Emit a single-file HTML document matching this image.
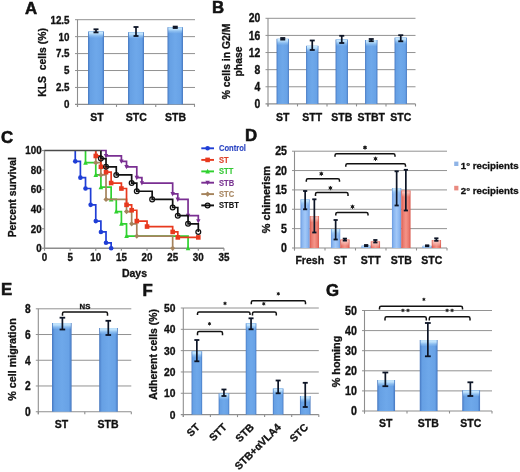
<!DOCTYPE html><html><head><meta charset="utf-8"><style>html,body{margin:0;padding:0;background:#fff;}svg{display:block;filter:blur(0.3px);}</style></head><body>
<svg width="520" height="472" viewBox="0 0 520 472" font-family='"Liberation Sans", sans-serif'>
<style>text{stroke-width:0.3px;paint-order:stroke;}</style>
<defs>
<linearGradient id="gb" x1="0" x2="1" y1="0" y2="0">
<stop offset="0" stop-color="#4676bd"/><stop offset="0.08" stop-color="#5890d8"/><stop offset="0.14" stop-color="#66a0e4"/><stop offset="0.5" stop-color="#6ea8ea"/><stop offset="0.86" stop-color="#68a2e6"/><stop offset="0.92" stop-color="#5890d8"/><stop offset="1" stop-color="#4676bd"/>
</linearGradient>
<linearGradient id="gr" x1="0" x2="1" y1="0" y2="0">
<stop offset="0" stop-color="#d9584c"/><stop offset="0.2" stop-color="#ea7a6e"/><stop offset="0.5" stop-color="#f49488"/><stop offset="0.8" stop-color="#ea7a6e"/><stop offset="1" stop-color="#d9584c"/>
</linearGradient>
<linearGradient id="gb2" x1="0" x2="1" y1="0" y2="0">
<stop offset="0" stop-color="#6a9ae0"/><stop offset="0.2" stop-color="#8ab6f0"/><stop offset="0.5" stop-color="#a2c8f8"/><stop offset="0.8" stop-color="#8ab6f0"/><stop offset="1" stop-color="#6a9ae0"/>
</linearGradient>
<linearGradient id="hb" x1="0" x2="0" y1="0" y2="1">
<stop offset="0" stop-color="#96c6f0"/><stop offset="0.1" stop-color="#c8e8fe"/><stop offset="0.35" stop-color="#b6dcfa"/><stop offset="0.7" stop-color="#9ccaf4" stop-opacity="0.5"/><stop offset="1" stop-color="#9ccaf4" stop-opacity="0"/>
</linearGradient>
<linearGradient id="hr" x1="0" x2="0" y1="0" y2="1">
<stop offset="0" stop-color="#f2a096"/><stop offset="0.3" stop-color="#f8c0b8"/><stop offset="1" stop-color="#f8c0b8" stop-opacity="0"/>
</linearGradient>
</defs>
<rect width="520" height="472" fill="#fff"/>
<text x="25.00" y="13.50" font-size="16.8" text-anchor="start" fill="#111" stroke="#111" font-weight="bold" style="stroke-width:0.55px">A</text>
<text x="212.00" y="12.50" font-size="16.8" text-anchor="start" fill="#111" stroke="#111" font-weight="bold" style="stroke-width:0.55px">B</text>
<text x="1.00" y="143.00" font-size="16.8" text-anchor="start" fill="#111" stroke="#111" font-weight="bold" style="stroke-width:0.55px">C</text>
<text x="245.00" y="141.00" font-size="16.8" text-anchor="start" fill="#111" stroke="#111" font-weight="bold" style="stroke-width:0.55px">D</text>
<text x="1.00" y="294.80" font-size="16.8" text-anchor="start" fill="#111" stroke="#111" font-weight="bold" style="stroke-width:0.55px">E</text>
<text x="142.50" y="296.00" font-size="16.8" text-anchor="start" fill="#111" stroke="#111" font-weight="bold" style="stroke-width:0.55px">F</text>
<text x="326.00" y="295.60" font-size="16.8" text-anchor="start" fill="#111" stroke="#111" font-weight="bold" style="stroke-width:0.55px">G</text>
<line x1="75.00" y1="19.70" x2="195.00" y2="19.70" stroke="#929292" stroke-width="1.0"/>
<line x1="75.00" y1="36.64" x2="195.00" y2="36.64" stroke="#929292" stroke-width="1.0"/>
<line x1="75.00" y1="53.58" x2="195.00" y2="53.58" stroke="#929292" stroke-width="1.0"/>
<line x1="75.00" y1="70.52" x2="195.00" y2="70.52" stroke="#929292" stroke-width="1.0"/>
<line x1="75.00" y1="87.46" x2="195.00" y2="87.46" stroke="#929292" stroke-width="1.0"/>
<line x1="77.50" y1="19.70" x2="77.50" y2="106.90" stroke="#8e8e8e" stroke-width="1.1"/>
<line x1="75.00" y1="104.40" x2="195.00" y2="104.40" stroke="#8e8e8e" stroke-width="1.1"/>
<line x1="77.50" y1="104.40" x2="77.50" y2="106.90" stroke="#8e8e8e" stroke-width="1.1"/>
<line x1="116.50" y1="104.40" x2="116.50" y2="106.90" stroke="#8e8e8e" stroke-width="1.1"/>
<line x1="155.75" y1="104.40" x2="155.75" y2="106.90" stroke="#8e8e8e" stroke-width="1.1"/>
<line x1="194.50" y1="104.40" x2="194.50" y2="106.90" stroke="#8e8e8e" stroke-width="1.1"/>
<text x="0" y="0" font-size="9.8" text-anchor="end" fill="#111" stroke="#111" font-weight="bold" transform="translate(69.50 23.58) scale(1 1.15)">12.5</text>
<text x="0" y="0" font-size="9.8" text-anchor="end" fill="#111" stroke="#111" font-weight="bold" transform="translate(69.50 40.52) scale(1 1.15)">10</text>
<text x="0" y="0" font-size="9.8" text-anchor="end" fill="#111" stroke="#111" font-weight="bold" transform="translate(69.50 57.46) scale(1 1.15)">7.5</text>
<text x="0" y="0" font-size="9.8" text-anchor="end" fill="#111" stroke="#111" font-weight="bold" transform="translate(69.50 74.40) scale(1 1.15)">5</text>
<text x="0" y="0" font-size="9.8" text-anchor="end" fill="#111" stroke="#111" font-weight="bold" transform="translate(69.50 91.34) scale(1 1.15)">2.5</text>
<text x="0" y="0" font-size="9.8" text-anchor="end" fill="#111" stroke="#111" font-weight="bold" transform="translate(69.50 108.28) scale(1 1.15)">0</text>
<rect x="88.00" y="31.50" width="16.00" height="72.90" fill="url(#gb)"/>
<rect x="88.80" y="31.50" width="14.40" height="6.50" fill="url(#hb)"/>
<line x1="96.00" y1="29.30" x2="96.00" y2="32.40" stroke="#0d1526" stroke-width="1.7"/>
<line x1="93.50" y1="29.30" x2="98.50" y2="29.30" stroke="#0d1526" stroke-width="1.8"/>
<line x1="93.50" y1="32.40" x2="98.50" y2="32.40" stroke="#0d1526" stroke-width="1.8"/>
<rect x="128.00" y="32.20" width="16.00" height="72.20" fill="url(#gb)"/>
<rect x="128.80" y="32.20" width="14.40" height="6.50" fill="url(#hb)"/>
<line x1="136.00" y1="27.00" x2="136.00" y2="36.00" stroke="#0d1526" stroke-width="1.7"/>
<line x1="133.50" y1="27.00" x2="138.50" y2="27.00" stroke="#0d1526" stroke-width="1.8"/>
<line x1="133.50" y1="36.00" x2="138.50" y2="36.00" stroke="#0d1526" stroke-width="1.8"/>
<rect x="167.50" y="27.20" width="15.50" height="77.20" fill="url(#gb)"/>
<rect x="168.30" y="27.20" width="13.90" height="6.50" fill="url(#hb)"/>
<line x1="175.25" y1="26.60" x2="175.25" y2="28.00" stroke="#0d1526" stroke-width="1.7"/>
<line x1="172.75" y1="26.60" x2="177.75" y2="26.60" stroke="#0d1526" stroke-width="1.8"/>
<line x1="172.75" y1="28.00" x2="177.75" y2="28.00" stroke="#0d1526" stroke-width="1.8"/>
<text x="97.00" y="121.30" font-size="10.5" text-anchor="middle" fill="#111" stroke="#111" font-weight="bold">ST</text>
<text x="136.30" y="121.30" font-size="10.5" text-anchor="middle" fill="#111" stroke="#111" font-weight="bold">STC</text>
<text x="175.50" y="121.30" font-size="10.5" text-anchor="middle" fill="#111" stroke="#111" font-weight="bold">STB</text>
<text x="0" y="0" font-size="10.4" text-anchor="middle" fill="#111" stroke="#111" font-weight="bold" transform="translate(45.90 62.50) rotate(-90)">KLS&#160; cells (%)</text>
<line x1="265.50" y1="18.30" x2="415.50" y2="18.30" stroke="#929292" stroke-width="1.0"/>
<line x1="265.50" y1="35.42" x2="415.50" y2="35.42" stroke="#929292" stroke-width="1.0"/>
<line x1="265.50" y1="52.54" x2="415.50" y2="52.54" stroke="#929292" stroke-width="1.0"/>
<line x1="265.50" y1="69.66" x2="415.50" y2="69.66" stroke="#929292" stroke-width="1.0"/>
<line x1="265.50" y1="86.78" x2="415.50" y2="86.78" stroke="#929292" stroke-width="1.0"/>
<line x1="268.00" y1="18.30" x2="268.00" y2="106.40" stroke="#8e8e8e" stroke-width="1.1"/>
<line x1="265.50" y1="103.90" x2="415.50" y2="103.90" stroke="#8e8e8e" stroke-width="1.1"/>
<line x1="268.00" y1="103.90" x2="268.00" y2="106.40" stroke="#8e8e8e" stroke-width="1.1"/>
<line x1="297.50" y1="103.90" x2="297.50" y2="106.40" stroke="#8e8e8e" stroke-width="1.1"/>
<line x1="327.00" y1="103.90" x2="327.00" y2="106.40" stroke="#8e8e8e" stroke-width="1.1"/>
<line x1="356.50" y1="103.90" x2="356.50" y2="106.40" stroke="#8e8e8e" stroke-width="1.1"/>
<line x1="386.00" y1="103.90" x2="386.00" y2="106.40" stroke="#8e8e8e" stroke-width="1.1"/>
<line x1="415.50" y1="103.90" x2="415.50" y2="106.40" stroke="#8e8e8e" stroke-width="1.1"/>
<text x="0" y="0" font-size="10.4" text-anchor="end" fill="#111" stroke="#111" font-weight="bold" transform="translate(260.20 22.41) scale(1 1.15)">20</text>
<text x="0" y="0" font-size="10.4" text-anchor="end" fill="#111" stroke="#111" font-weight="bold" transform="translate(260.20 39.53) scale(1 1.15)">16</text>
<text x="0" y="0" font-size="10.4" text-anchor="end" fill="#111" stroke="#111" font-weight="bold" transform="translate(260.20 56.65) scale(1 1.15)">12</text>
<text x="0" y="0" font-size="10.4" text-anchor="end" fill="#111" stroke="#111" font-weight="bold" transform="translate(260.20 73.77) scale(1 1.15)">8</text>
<text x="0" y="0" font-size="10.4" text-anchor="end" fill="#111" stroke="#111" font-weight="bold" transform="translate(260.20 90.89) scale(1 1.15)">4</text>
<text x="0" y="0" font-size="10.4" text-anchor="end" fill="#111" stroke="#111" font-weight="bold" transform="translate(260.20 108.01) scale(1 1.15)">0</text>
<rect x="276.55" y="38.80" width="12.40" height="65.10" fill="url(#gb)"/>
<rect x="277.35" y="38.80" width="10.80" height="6.50" fill="url(#hb)"/>
<line x1="282.75" y1="38.00" x2="282.75" y2="39.60" stroke="#0d1526" stroke-width="1.7"/>
<line x1="280.25" y1="38.00" x2="285.25" y2="38.00" stroke="#0d1526" stroke-width="1.8"/>
<line x1="280.25" y1="39.60" x2="285.25" y2="39.60" stroke="#0d1526" stroke-width="1.8"/>
<rect x="306.05" y="45.80" width="12.40" height="58.10" fill="url(#gb)"/>
<rect x="306.85" y="45.80" width="10.80" height="6.50" fill="url(#hb)"/>
<line x1="312.25" y1="40.50" x2="312.25" y2="50.00" stroke="#0d1526" stroke-width="1.7"/>
<line x1="309.75" y1="40.50" x2="314.75" y2="40.50" stroke="#0d1526" stroke-width="1.8"/>
<line x1="309.75" y1="50.00" x2="314.75" y2="50.00" stroke="#0d1526" stroke-width="1.8"/>
<rect x="335.55" y="39.50" width="12.40" height="64.40" fill="url(#gb)"/>
<rect x="336.35" y="39.50" width="10.80" height="6.50" fill="url(#hb)"/>
<line x1="341.75" y1="35.80" x2="341.75" y2="43.00" stroke="#0d1526" stroke-width="1.7"/>
<line x1="339.25" y1="35.80" x2="344.25" y2="35.80" stroke="#0d1526" stroke-width="1.8"/>
<line x1="339.25" y1="43.00" x2="344.25" y2="43.00" stroke="#0d1526" stroke-width="1.8"/>
<rect x="365.05" y="40.00" width="12.40" height="63.90" fill="url(#gb)"/>
<rect x="365.85" y="40.00" width="10.80" height="6.50" fill="url(#hb)"/>
<line x1="371.25" y1="39.00" x2="371.25" y2="41.20" stroke="#0d1526" stroke-width="1.7"/>
<line x1="368.75" y1="39.00" x2="373.75" y2="39.00" stroke="#0d1526" stroke-width="1.8"/>
<line x1="368.75" y1="41.20" x2="373.75" y2="41.20" stroke="#0d1526" stroke-width="1.8"/>
<rect x="394.55" y="37.60" width="12.40" height="66.30" fill="url(#gb)"/>
<rect x="395.35" y="37.60" width="10.80" height="6.50" fill="url(#hb)"/>
<line x1="400.75" y1="35.20" x2="400.75" y2="41.30" stroke="#0d1526" stroke-width="1.7"/>
<line x1="398.25" y1="35.20" x2="403.25" y2="35.20" stroke="#0d1526" stroke-width="1.8"/>
<line x1="398.25" y1="41.30" x2="403.25" y2="41.30" stroke="#0d1526" stroke-width="1.8"/>
<text x="282.75" y="121.30" font-size="10.5" text-anchor="middle" fill="#111" stroke="#111" font-weight="bold">ST</text>
<text x="312.25" y="121.30" font-size="10.5" text-anchor="middle" fill="#111" stroke="#111" font-weight="bold">STT</text>
<text x="341.75" y="121.30" font-size="10.5" text-anchor="middle" fill="#111" stroke="#111" font-weight="bold">STB</text>
<text x="371.25" y="121.30" font-size="10.5" text-anchor="middle" fill="#111" stroke="#111" font-weight="bold">STBT</text>
<text x="400.75" y="121.30" font-size="10.5" text-anchor="middle" fill="#111" stroke="#111" font-weight="bold">STC</text>
<text x="0" y="0" font-size="10.4" text-anchor="middle" fill="#111" stroke="#111" font-weight="bold" transform="translate(229.60 61.50) rotate(-90)">% cells in G2/M</text>
<text x="0" y="0" font-size="10.4" text-anchor="middle" fill="#111" stroke="#111" font-weight="bold" transform="translate(241.80 61.50) rotate(-90)">phase</text>
<line x1="44.50" y1="149.90" x2="44.50" y2="248.25" stroke="#8c8c8c" stroke-width="1.4"/>
<line x1="44.50" y1="248.25" x2="223.94" y2="248.25" stroke="#8c8c8c" stroke-width="1.4"/>
<line x1="42.00" y1="248.25" x2="44.50" y2="248.25" stroke="#8e8e8e" stroke-width="1.2"/>
<text x="0" y="0" font-size="9.8" text-anchor="end" fill="#111" stroke="#111" font-weight="bold" transform="translate(41.60 252.13) scale(1 1.15)">0</text>
<line x1="42.00" y1="228.70" x2="44.50" y2="228.70" stroke="#8e8e8e" stroke-width="1.2"/>
<text x="0" y="0" font-size="9.8" text-anchor="end" fill="#111" stroke="#111" font-weight="bold" transform="translate(41.60 232.58) scale(1 1.15)">20</text>
<line x1="42.00" y1="209.15" x2="44.50" y2="209.15" stroke="#8e8e8e" stroke-width="1.2"/>
<text x="0" y="0" font-size="9.8" text-anchor="end" fill="#111" stroke="#111" font-weight="bold" transform="translate(41.60 213.03) scale(1 1.15)">40</text>
<line x1="42.00" y1="189.60" x2="44.50" y2="189.60" stroke="#8e8e8e" stroke-width="1.2"/>
<text x="0" y="0" font-size="9.8" text-anchor="end" fill="#111" stroke="#111" font-weight="bold" transform="translate(41.60 193.48) scale(1 1.15)">60</text>
<line x1="42.00" y1="170.05" x2="44.50" y2="170.05" stroke="#8e8e8e" stroke-width="1.2"/>
<text x="0" y="0" font-size="9.8" text-anchor="end" fill="#111" stroke="#111" font-weight="bold" transform="translate(41.60 173.93) scale(1 1.15)">80</text>
<line x1="42.00" y1="150.50" x2="44.50" y2="150.50" stroke="#8e8e8e" stroke-width="1.2"/>
<text x="0" y="0" font-size="9.8" text-anchor="end" fill="#111" stroke="#111" font-weight="bold" transform="translate(41.60 154.38) scale(1 1.15)">100</text>
<line x1="44.50" y1="248.25" x2="44.50" y2="250.75" stroke="#8e8e8e" stroke-width="1.2"/>
<text x="0" y="0" font-size="9.8" text-anchor="middle" fill="#111" stroke="#111" font-weight="bold" transform="translate(44.50 261.00) scale(1 1.15)">0</text>
<line x1="70.13" y1="248.25" x2="70.13" y2="250.75" stroke="#8e8e8e" stroke-width="1.2"/>
<text x="0" y="0" font-size="9.8" text-anchor="middle" fill="#111" stroke="#111" font-weight="bold" transform="translate(70.13 261.00) scale(1 1.15)">5</text>
<line x1="95.77" y1="248.25" x2="95.77" y2="250.75" stroke="#8e8e8e" stroke-width="1.2"/>
<text x="0" y="0" font-size="9.8" text-anchor="middle" fill="#111" stroke="#111" font-weight="bold" transform="translate(95.77 261.00) scale(1 1.15)">10</text>
<line x1="121.41" y1="248.25" x2="121.41" y2="250.75" stroke="#8e8e8e" stroke-width="1.2"/>
<text x="0" y="0" font-size="9.8" text-anchor="middle" fill="#111" stroke="#111" font-weight="bold" transform="translate(121.41 261.00) scale(1 1.15)">15</text>
<line x1="147.04" y1="248.25" x2="147.04" y2="250.75" stroke="#8e8e8e" stroke-width="1.2"/>
<text x="0" y="0" font-size="9.8" text-anchor="middle" fill="#111" stroke="#111" font-weight="bold" transform="translate(147.04 261.00) scale(1 1.15)">20</text>
<line x1="172.67" y1="248.25" x2="172.67" y2="250.75" stroke="#8e8e8e" stroke-width="1.2"/>
<text x="0" y="0" font-size="9.8" text-anchor="middle" fill="#111" stroke="#111" font-weight="bold" transform="translate(172.67 261.00) scale(1 1.15)">25</text>
<line x1="198.31" y1="248.25" x2="198.31" y2="250.75" stroke="#8e8e8e" stroke-width="1.2"/>
<text x="0" y="0" font-size="9.8" text-anchor="middle" fill="#111" stroke="#111" font-weight="bold" transform="translate(198.31 261.00) scale(1 1.15)">30</text>
<line x1="223.94" y1="248.25" x2="223.94" y2="250.75" stroke="#8e8e8e" stroke-width="1.2"/>
<text x="0" y="0" font-size="9.8" text-anchor="middle" fill="#111" stroke="#111" font-weight="bold" transform="translate(223.94 261.00) scale(1 1.15)">35</text>
<text x="134.50" y="276.60" font-size="10.5" text-anchor="middle" fill="#111" stroke="#111" font-weight="bold">Days</text>
<text x="0" y="0" font-size="10.4" text-anchor="middle" fill="#111" stroke="#111" font-weight="bold" transform="translate(15.80 197.20) rotate(-90)">Percent survival</text>
<path d="M75.26 150.50 H75.26 V161.35 H80.39 V177.67 H85.52 V188.52 H90.64 V204.85 H95.77 V221.08 H100.90 V231.93 H106.02 V242.78 H111.15 V248.25" stroke="#1f3ed6" stroke-width="1.7" fill="none" stroke-linejoin="miter"/>
<circle cx="75.26" cy="161.35" r="2.3" fill="#1f3ed6"/>
<circle cx="80.39" cy="177.67" r="2.3" fill="#1f3ed6"/>
<circle cx="85.52" cy="188.52" r="2.3" fill="#1f3ed6"/>
<circle cx="90.64" cy="204.85" r="2.3" fill="#1f3ed6"/>
<circle cx="95.77" cy="221.08" r="2.3" fill="#1f3ed6"/>
<circle cx="100.90" cy="231.93" r="2.3" fill="#1f3ed6"/>
<circle cx="106.02" cy="242.78" r="2.3" fill="#1f3ed6"/>
<circle cx="111.15" cy="248.25" r="2.3" fill="#1f3ed6"/>
<path d="M85.52 150.50 H85.52 V162.72 H95.77 V174.94 H100.90 V187.16 H111.15 V199.38 H116.28 V211.59 H121.41 V223.81 H126.53 V236.03 H188.06 V248.25" stroke="#2fd12f" stroke-width="1.7" fill="none" stroke-linejoin="miter"/>
<path d="M85.52 160.12 L87.82 164.72 L83.22 164.72Z" fill="#2fd12f"/>
<path d="M95.77 172.34 L98.07 176.94 L93.47 176.94Z" fill="#2fd12f"/>
<path d="M100.90 184.56 L103.20 189.16 L98.60 189.16Z" fill="#2fd12f"/>
<path d="M111.15 196.77 L113.45 201.38 L108.85 201.38Z" fill="#2fd12f"/>
<path d="M116.28 208.99 L118.58 213.59 L113.98 213.59Z" fill="#2fd12f"/>
<path d="M121.41 221.21 L123.70 225.81 L119.11 225.81Z" fill="#2fd12f"/>
<path d="M126.53 233.43 L128.83 238.03 L124.23 238.03Z" fill="#2fd12f"/>
<path d="M188.06 245.65 L190.36 250.25 L185.76 250.25Z" fill="#2fd12f"/>
<path d="M95.77 150.50 H95.77 V162.72 H100.90 V174.94 H106.02 V199.38 H126.53 V211.59 H131.66 V223.81 H136.79 V236.03 H172.67 V248.25" stroke="#a5835c" stroke-width="1.7" fill="none" stroke-linejoin="miter"/>
<path d="M95.77 160.12 L98.37 162.72 L95.77 165.32 L93.17 162.72Z" fill="#a5835c"/>
<path d="M100.90 172.34 L103.50 174.94 L100.90 177.54 L98.30 174.94Z" fill="#a5835c"/>
<path d="M106.02 196.78 L108.62 199.38 L106.02 201.97 L103.42 199.38Z" fill="#a5835c"/>
<path d="M126.53 208.99 L129.13 211.59 L126.53 214.19 L123.93 211.59Z" fill="#a5835c"/>
<path d="M131.66 221.21 L134.26 223.81 L131.66 226.41 L129.06 223.81Z" fill="#a5835c"/>
<path d="M136.79 233.43 L139.39 236.03 L136.79 238.63 L134.19 236.03Z" fill="#a5835c"/>
<path d="M172.67 245.65 L175.27 248.25 L172.67 250.85 L170.07 248.25Z" fill="#a5835c"/>
<path d="M95.77 150.50 H95.77 V155.97 H100.90 V166.82 H106.02 V172.20 H111.15 V183.05 H121.41 V188.52 H126.53 V204.85 H131.66 V210.23 H136.79 V221.08 H147.04 V226.55 H172.67 V231.93 H177.80 V237.40 H198.31" stroke="#e8391e" stroke-width="1.7" fill="none" stroke-linejoin="miter"/>
<rect x="93.47" y="153.67" width="4.6" height="4.6" fill="#e8391e"/>
<rect x="98.60" y="164.52" width="4.6" height="4.6" fill="#e8391e"/>
<rect x="103.72" y="169.90" width="4.6" height="4.6" fill="#e8391e"/>
<rect x="108.85" y="180.75" width="4.6" height="4.6" fill="#e8391e"/>
<rect x="119.11" y="186.22" width="4.6" height="4.6" fill="#e8391e"/>
<rect x="124.23" y="202.55" width="4.6" height="4.6" fill="#e8391e"/>
<rect x="129.36" y="207.93" width="4.6" height="4.6" fill="#e8391e"/>
<rect x="134.49" y="218.78" width="4.6" height="4.6" fill="#e8391e"/>
<rect x="144.74" y="224.25" width="4.6" height="4.6" fill="#e8391e"/>
<rect x="170.37" y="229.63" width="4.6" height="4.6" fill="#e8391e"/>
<rect x="175.50" y="235.10" width="4.6" height="4.6" fill="#e8391e"/>
<rect x="196.01" y="235.10" width="4.6" height="4.6" fill="#e8391e"/>
<path d="M100.90 150.50 H106.02 V155.97 H121.41 V161.35 H126.53 V166.82 H136.79 V177.67 H141.91 V183.05 H172.67 V193.90 H177.80 V199.38 H188.06 V215.70 H198.31 V221.08" stroke="#7a2f92" stroke-width="1.7" fill="none" stroke-linejoin="miter"/>
<path d="M103.82 154.07 L108.22 154.07 L106.02 158.47Z" fill="#7a2f92"/>
<path d="M119.20 159.45 L123.61 159.45 L121.41 163.85Z" fill="#7a2f92"/>
<path d="M124.33 164.92 L128.73 164.92 L126.53 169.32Z" fill="#7a2f92"/>
<path d="M134.59 175.77 L138.99 175.77 L136.79 180.17Z" fill="#7a2f92"/>
<path d="M139.71 181.15 L144.11 181.15 L141.91 185.55Z" fill="#7a2f92"/>
<path d="M170.47 192.00 L174.87 192.00 L172.67 196.40Z" fill="#7a2f92"/>
<path d="M175.60 197.48 L180.00 197.48 L177.80 201.88Z" fill="#7a2f92"/>
<path d="M185.86 213.80 L190.26 213.80 L188.06 218.20Z" fill="#7a2f92"/>
<path d="M196.11 219.18 L200.51 219.18 L198.31 223.58Z" fill="#7a2f92"/>
<path d="M100.90 150.50 H100.90 V158.61 H106.02 V166.82 H116.28 V174.94 H131.66 V183.05 H136.79 V191.26 H152.17 V199.38 H172.67 V207.49 H177.80 V215.70 H188.06 V223.81 H198.31 V231.93" stroke="#111111" stroke-width="1.7" fill="none" stroke-linejoin="miter"/>
<circle cx="100.90" cy="158.61" r="2.4" fill="none" stroke="#111111" stroke-width="1.25"/>
<circle cx="106.02" cy="166.82" r="2.4" fill="none" stroke="#111111" stroke-width="1.25"/>
<circle cx="116.28" cy="174.94" r="2.4" fill="none" stroke="#111111" stroke-width="1.25"/>
<circle cx="131.66" cy="183.05" r="2.4" fill="none" stroke="#111111" stroke-width="1.25"/>
<circle cx="136.79" cy="191.26" r="2.4" fill="none" stroke="#111111" stroke-width="1.25"/>
<circle cx="152.17" cy="199.38" r="2.4" fill="none" stroke="#111111" stroke-width="1.25"/>
<circle cx="172.67" cy="207.49" r="2.4" fill="none" stroke="#111111" stroke-width="1.25"/>
<circle cx="177.80" cy="215.70" r="2.4" fill="none" stroke="#111111" stroke-width="1.25"/>
<circle cx="188.06" cy="223.81" r="2.4" fill="none" stroke="#111111" stroke-width="1.25"/>
<circle cx="198.31" cy="231.93" r="2.4" fill="none" stroke="#111111" stroke-width="1.25"/>
<line x1="44.50" y1="150.50" x2="100.90" y2="150.50" stroke="#4a4a4a" stroke-width="1.5"/>
<line x1="201.30" y1="148.30" x2="214.00" y2="148.30" stroke="#1f3ed6" stroke-width="1.9"/>
<circle cx="207.60" cy="148.30" r="2.3" fill="#1f3ed6"/>
<text x="0" y="0" font-size="7.6" text-anchor="start" fill="#2a44c2" stroke="#2a44c2" font-weight="bold" transform="translate(219.00 151.38) scale(1 1.1)" style="stroke-width:0.12px">Control</text>
<line x1="201.30" y1="159.90" x2="214.00" y2="159.90" stroke="#e8391e" stroke-width="1.9"/>
<rect x="205.30" y="157.60" width="4.6" height="4.6" fill="#e8391e"/>
<text x="0" y="0" font-size="7.6" text-anchor="start" fill="#dc4028" stroke="#dc4028" font-weight="bold" transform="translate(219.00 162.98) scale(1 1.1)" style="stroke-width:0.12px">ST</text>
<line x1="201.30" y1="171.40" x2="214.00" y2="171.40" stroke="#2fd12f" stroke-width="1.9"/>
<path d="M207.60 168.80 L209.90 173.40 L205.30 173.40Z" fill="#2fd12f"/>
<text x="0" y="0" font-size="7.6" text-anchor="start" fill="#36c836" stroke="#36c836" font-weight="bold" transform="translate(219.00 174.48) scale(1 1.1)" style="stroke-width:0.12px">STT</text>
<line x1="201.30" y1="182.70" x2="214.00" y2="182.70" stroke="#7a2f92" stroke-width="1.9"/>
<path d="M205.40 180.80 L209.80 180.80 L207.60 185.20Z" fill="#7a2f92"/>
<text x="0" y="0" font-size="7.6" text-anchor="start" fill="#7a3592" stroke="#7a3592" font-weight="bold" transform="translate(219.00 185.78) scale(1 1.1)" style="stroke-width:0.12px">STB</text>
<line x1="201.30" y1="194.10" x2="214.00" y2="194.10" stroke="#a5835c" stroke-width="1.9"/>
<path d="M207.60 191.50 L210.20 194.10 L207.60 196.70 L205.00 194.10Z" fill="#a5835c"/>
<text x="0" y="0" font-size="7.6" text-anchor="start" fill="#a88762" stroke="#a88762" font-weight="bold" transform="translate(219.00 197.18) scale(1 1.1)" style="stroke-width:0.12px">STC</text>
<line x1="201.30" y1="205.40" x2="214.00" y2="205.40" stroke="#111111" stroke-width="1.9"/>
<circle cx="207.60" cy="205.40" r="2.4" fill="none" stroke="#111111" stroke-width="1.25"/>
<text x="0" y="0" font-size="7.6" text-anchor="start" fill="#161616" stroke="#161616" font-weight="bold" transform="translate(219.00 208.48) scale(1 1.1)" style="stroke-width:0.12px">STBT</text>
<line x1="292.00" y1="151.20" x2="447.00" y2="151.20" stroke="#929292" stroke-width="1.0"/>
<line x1="292.00" y1="170.56" x2="447.00" y2="170.56" stroke="#929292" stroke-width="1.0"/>
<line x1="292.00" y1="189.92" x2="447.00" y2="189.92" stroke="#929292" stroke-width="1.0"/>
<line x1="292.00" y1="209.28" x2="447.00" y2="209.28" stroke="#929292" stroke-width="1.0"/>
<line x1="292.00" y1="228.64" x2="447.00" y2="228.64" stroke="#929292" stroke-width="1.0"/>
<line x1="294.50" y1="151.20" x2="294.50" y2="250.50" stroke="#8e8e8e" stroke-width="1.1"/>
<line x1="292.00" y1="248.00" x2="447.00" y2="248.00" stroke="#8e8e8e" stroke-width="1.1"/>
<line x1="294.50" y1="248.00" x2="294.50" y2="250.50" stroke="#8e8e8e" stroke-width="1.1"/>
<line x1="325.00" y1="248.00" x2="325.00" y2="250.50" stroke="#8e8e8e" stroke-width="1.1"/>
<line x1="355.50" y1="248.00" x2="355.50" y2="250.50" stroke="#8e8e8e" stroke-width="1.1"/>
<line x1="386.00" y1="248.00" x2="386.00" y2="250.50" stroke="#8e8e8e" stroke-width="1.1"/>
<line x1="416.50" y1="248.00" x2="416.50" y2="250.50" stroke="#8e8e8e" stroke-width="1.1"/>
<line x1="447.00" y1="248.00" x2="447.00" y2="250.50" stroke="#8e8e8e" stroke-width="1.1"/>
<text x="0" y="0" font-size="10.6" text-anchor="end" fill="#111" stroke="#111" font-weight="bold" transform="translate(286.90 155.39) scale(1 1.15)">25</text>
<text x="0" y="0" font-size="10.6" text-anchor="end" fill="#111" stroke="#111" font-weight="bold" transform="translate(286.90 174.75) scale(1 1.15)">20</text>
<text x="0" y="0" font-size="10.6" text-anchor="end" fill="#111" stroke="#111" font-weight="bold" transform="translate(286.90 194.11) scale(1 1.15)">15</text>
<text x="0" y="0" font-size="10.6" text-anchor="end" fill="#111" stroke="#111" font-weight="bold" transform="translate(286.90 213.47) scale(1 1.15)">10</text>
<text x="0" y="0" font-size="10.6" text-anchor="end" fill="#111" stroke="#111" font-weight="bold" transform="translate(286.90 232.83) scale(1 1.15)">5</text>
<text x="0" y="0" font-size="10.6" text-anchor="end" fill="#111" stroke="#111" font-weight="bold" transform="translate(286.90 252.19) scale(1 1.15)">0</text>
<rect x="300.45" y="199.30" width="9.30" height="48.70" fill="url(#gb2)"/>
<rect x="301.25" y="199.30" width="7.70" height="6.50" fill="url(#hb)"/>
<rect x="309.75" y="216.00" width="9.30" height="32.00" fill="url(#gr)"/>
<rect x="310.55" y="216.00" width="7.70" height="6.50" fill="url(#hr)"/>
<line x1="305.15" y1="191.00" x2="305.15" y2="209.30" stroke="#0d1526" stroke-width="1.7"/>
<line x1="303.05" y1="191.00" x2="307.25" y2="191.00" stroke="#0d1526" stroke-width="1.8"/>
<line x1="303.05" y1="209.30" x2="307.25" y2="209.30" stroke="#0d1526" stroke-width="1.8"/>
<line x1="314.35" y1="199.30" x2="314.35" y2="232.50" stroke="#0d1526" stroke-width="1.7"/>
<line x1="312.25" y1="199.30" x2="316.45" y2="199.30" stroke="#0d1526" stroke-width="1.8"/>
<line x1="312.25" y1="232.50" x2="316.45" y2="232.50" stroke="#0d1526" stroke-width="1.8"/>
<rect x="330.95" y="229.00" width="9.30" height="19.00" fill="url(#gb2)"/>
<rect x="331.75" y="229.00" width="7.70" height="6.50" fill="url(#hb)"/>
<rect x="340.25" y="239.50" width="9.30" height="8.50" fill="url(#gr)"/>
<rect x="341.05" y="239.50" width="7.70" height="6.50" fill="url(#hr)"/>
<line x1="335.65" y1="220.00" x2="335.65" y2="239.50" stroke="#0d1526" stroke-width="1.7"/>
<line x1="333.55" y1="220.00" x2="337.75" y2="220.00" stroke="#0d1526" stroke-width="1.8"/>
<line x1="333.55" y1="239.50" x2="337.75" y2="239.50" stroke="#0d1526" stroke-width="1.8"/>
<line x1="344.85" y1="238.60" x2="344.85" y2="240.60" stroke="#0d1526" stroke-width="1.7"/>
<line x1="342.75" y1="238.60" x2="346.95" y2="238.60" stroke="#0d1526" stroke-width="1.8"/>
<line x1="342.75" y1="240.60" x2="346.95" y2="240.60" stroke="#0d1526" stroke-width="1.8"/>
<rect x="361.45" y="245.60" width="9.30" height="2.40" fill="url(#gb2)"/>
<rect x="362.25" y="245.60" width="7.70" height="2.40" fill="url(#hb)"/>
<rect x="370.75" y="241.30" width="9.30" height="6.70" fill="url(#gr)"/>
<rect x="371.55" y="241.30" width="7.70" height="6.50" fill="url(#hr)"/>
<line x1="366.15" y1="245.00" x2="366.15" y2="246.20" stroke="#0d1526" stroke-width="1.7"/>
<line x1="364.05" y1="245.00" x2="368.25" y2="245.00" stroke="#0d1526" stroke-width="1.8"/>
<line x1="364.05" y1="246.20" x2="368.25" y2="246.20" stroke="#0d1526" stroke-width="1.8"/>
<line x1="375.35" y1="240.00" x2="375.35" y2="242.50" stroke="#0d1526" stroke-width="1.7"/>
<line x1="373.25" y1="240.00" x2="377.45" y2="240.00" stroke="#0d1526" stroke-width="1.8"/>
<line x1="373.25" y1="242.50" x2="377.45" y2="242.50" stroke="#0d1526" stroke-width="1.8"/>
<rect x="391.95" y="188.00" width="9.30" height="60.00" fill="url(#gb2)"/>
<rect x="392.75" y="188.00" width="7.70" height="6.50" fill="url(#hb)"/>
<rect x="401.25" y="190.50" width="9.30" height="57.50" fill="url(#gr)"/>
<rect x="402.05" y="190.50" width="7.70" height="6.50" fill="url(#hr)"/>
<line x1="396.65" y1="171.30" x2="396.65" y2="205.50" stroke="#0d1526" stroke-width="1.7"/>
<line x1="394.55" y1="171.30" x2="398.75" y2="171.30" stroke="#0d1526" stroke-width="1.8"/>
<line x1="394.55" y1="205.50" x2="398.75" y2="205.50" stroke="#0d1526" stroke-width="1.8"/>
<line x1="405.85" y1="169.80" x2="405.85" y2="210.50" stroke="#0d1526" stroke-width="1.7"/>
<line x1="403.75" y1="169.80" x2="407.95" y2="169.80" stroke="#0d1526" stroke-width="1.8"/>
<line x1="403.75" y1="210.50" x2="407.95" y2="210.50" stroke="#0d1526" stroke-width="1.8"/>
<rect x="422.45" y="245.80" width="9.30" height="2.20" fill="url(#gb2)"/>
<rect x="423.25" y="245.80" width="7.70" height="2.20" fill="url(#hb)"/>
<rect x="431.75" y="240.00" width="9.30" height="8.00" fill="url(#gr)"/>
<rect x="432.55" y="240.00" width="7.70" height="6.50" fill="url(#hr)"/>
<line x1="427.15" y1="245.30" x2="427.15" y2="246.30" stroke="#0d1526" stroke-width="1.7"/>
<line x1="425.05" y1="245.30" x2="429.25" y2="245.30" stroke="#0d1526" stroke-width="1.8"/>
<line x1="425.05" y1="246.30" x2="429.25" y2="246.30" stroke="#0d1526" stroke-width="1.8"/>
<line x1="436.35" y1="238.30" x2="436.35" y2="240.80" stroke="#0d1526" stroke-width="1.7"/>
<line x1="434.25" y1="238.30" x2="438.45" y2="238.30" stroke="#0d1526" stroke-width="1.8"/>
<line x1="434.25" y1="240.80" x2="438.45" y2="240.80" stroke="#0d1526" stroke-width="1.8"/>
<text x="309.75" y="263.60" font-size="10.5" text-anchor="middle" fill="#111" stroke="#111" font-weight="bold">Fresh</text>
<text x="340.25" y="263.60" font-size="10.5" text-anchor="middle" fill="#111" stroke="#111" font-weight="bold">ST</text>
<text x="370.75" y="263.60" font-size="10.5" text-anchor="middle" fill="#111" stroke="#111" font-weight="bold">STT</text>
<text x="401.25" y="263.60" font-size="10.5" text-anchor="middle" fill="#111" stroke="#111" font-weight="bold">STB</text>
<text x="431.75" y="263.60" font-size="10.5" text-anchor="middle" fill="#111" stroke="#111" font-weight="bold">STC</text>
<text x="0" y="0" font-size="10.9" text-anchor="middle" fill="#111" stroke="#111" font-weight="bold" transform="translate(269.90 199.60) rotate(-90)">% chimerism</text>
<path d="M306.30 181.80 V180.40 Q306.30 178.80 307.90 178.80 H337.90 Q339.50 178.80 339.50 180.40 V181.80" stroke="#111" stroke-width="1.5" fill="none"/>
<circle cx="321.30" cy="173.80" r="1.48" fill="#1a1a1a"/>
<path d="M321.30 172.05L321.30 175.55M319.79 172.93L322.81 174.67M322.81 172.93L319.79 174.67" stroke="#1a1a1a" stroke-width="0.95" stroke-linecap="round"/>
<path d="M315.50 196.00 V194.10 Q315.50 192.50 317.10 192.50 H346.40 Q348.00 192.50 348.00 194.10 V196.00" stroke="#111" stroke-width="1.5" fill="none"/>
<circle cx="330.40" cy="188.10" r="1.48" fill="#1a1a1a"/>
<path d="M330.40 186.35L330.40 189.85M328.89 187.23L331.91 188.97M331.91 187.23L328.89 188.97" stroke="#1a1a1a" stroke-width="0.95" stroke-linecap="round"/>
<path d="M335.80 215.50 V214.10 Q335.80 212.50 337.40 212.50 H366.40 Q368.00 212.50 368.00 214.10 V215.50" stroke="#111" stroke-width="1.5" fill="none"/>
<circle cx="352.50" cy="206.80" r="1.48" fill="#1a1a1a"/>
<path d="M352.50 205.05L352.50 208.55M350.99 205.93L354.01 207.67M354.01 205.93L350.99 207.67" stroke="#1a1a1a" stroke-width="0.95" stroke-linecap="round"/>
<path d="M335.00 156.80 V155.40 Q335.00 153.80 336.60 153.80 H393.40 Q395.00 153.80 395.00 155.40 V156.80" stroke="#111" stroke-width="1.5" fill="none"/>
<circle cx="365.00" cy="147.60" r="1.48" fill="#1a1a1a"/>
<path d="M365.00 145.85L365.00 149.35M363.49 146.73L366.51 148.47M366.51 146.73L363.49 148.47" stroke="#1a1a1a" stroke-width="0.95" stroke-linecap="round"/>
<path d="M345.80 166.80 V165.40 Q345.80 163.80 347.40 163.80 H403.90 Q405.50 163.80 405.50 165.40 V166.80" stroke="#111" stroke-width="1.5" fill="none"/>
<circle cx="375.50" cy="158.80" r="1.48" fill="#1a1a1a"/>
<path d="M375.50 157.05L375.50 160.55M373.99 157.93L377.01 159.67M377.01 157.93L373.99 159.67" stroke="#1a1a1a" stroke-width="0.95" stroke-linecap="round"/>
<rect x="454.2" y="161.6" width="4.2" height="4.4" fill="#8fb4e6"/>
<rect x="454.2" y="185.8" width="4.2" height="4.6" fill="#e98a80"/>
<text x="460.80" y="169.30" font-size="9.7" text-anchor="start" fill="#111" stroke="#111" font-weight="bold">1&#176; recipients</text>
<text x="460.80" y="193.90" font-size="9.7" text-anchor="start" fill="#111" stroke="#111" font-weight="bold">2&#176; recipients</text>
<line x1="35.80" y1="308.80" x2="131.30" y2="308.80" stroke="#929292" stroke-width="1.0"/>
<line x1="35.80" y1="334.52" x2="131.30" y2="334.52" stroke="#929292" stroke-width="1.0"/>
<line x1="35.80" y1="360.25" x2="131.30" y2="360.25" stroke="#929292" stroke-width="1.0"/>
<line x1="35.80" y1="385.98" x2="131.30" y2="385.98" stroke="#929292" stroke-width="1.0"/>
<line x1="38.30" y1="308.80" x2="38.30" y2="414.20" stroke="#8e8e8e" stroke-width="1.1"/>
<line x1="35.80" y1="411.70" x2="131.30" y2="411.70" stroke="#8e8e8e" stroke-width="1.1"/>
<line x1="38.30" y1="411.70" x2="38.30" y2="414.20" stroke="#8e8e8e" stroke-width="1.1"/>
<line x1="84.80" y1="411.70" x2="84.80" y2="414.20" stroke="#8e8e8e" stroke-width="1.1"/>
<line x1="131.30" y1="411.70" x2="131.30" y2="414.20" stroke="#8e8e8e" stroke-width="1.1"/>
<text x="0" y="0" font-size="10.2" text-anchor="end" fill="#111" stroke="#111" font-weight="bold" transform="translate(30.60 313.19) scale(1 1.25)">8</text>
<text x="0" y="0" font-size="10.2" text-anchor="end" fill="#111" stroke="#111" font-weight="bold" transform="translate(30.60 338.91) scale(1 1.25)">6</text>
<text x="0" y="0" font-size="10.2" text-anchor="end" fill="#111" stroke="#111" font-weight="bold" transform="translate(30.60 364.64) scale(1 1.25)">4</text>
<text x="0" y="0" font-size="10.2" text-anchor="end" fill="#111" stroke="#111" font-weight="bold" transform="translate(30.60 390.36) scale(1 1.25)">2</text>
<text x="0" y="0" font-size="10.2" text-anchor="end" fill="#111" stroke="#111" font-weight="bold" transform="translate(30.60 416.09) scale(1 1.25)">0</text>
<rect x="52.00" y="323.00" width="19.60" height="88.70" fill="url(#gb)"/>
<rect x="52.80" y="323.00" width="18.00" height="6.50" fill="url(#hb)"/>
<line x1="62.40" y1="317.70" x2="62.40" y2="329.50" stroke="#0d1526" stroke-width="1.7"/>
<line x1="59.60" y1="317.70" x2="65.20" y2="317.70" stroke="#0d1526" stroke-width="1.8"/>
<line x1="59.60" y1="329.50" x2="65.20" y2="329.50" stroke="#0d1526" stroke-width="1.8"/>
<rect x="99.20" y="328.00" width="18.60" height="83.70" fill="url(#gb)"/>
<rect x="100.00" y="328.00" width="17.00" height="6.50" fill="url(#hb)"/>
<line x1="108.30" y1="320.80" x2="108.30" y2="335.00" stroke="#0d1526" stroke-width="1.7"/>
<line x1="105.50" y1="320.80" x2="111.10" y2="320.80" stroke="#0d1526" stroke-width="1.8"/>
<line x1="105.50" y1="335.00" x2="111.10" y2="335.00" stroke="#0d1526" stroke-width="1.8"/>
<text x="61.55" y="427.80" font-size="10.5" text-anchor="middle" fill="#111" stroke="#111" font-weight="bold">ST</text>
<text x="108.05" y="427.80" font-size="10.5" text-anchor="middle" fill="#111" stroke="#111" font-weight="bold">STB</text>
<path d="M62.50 315.80 V313.60 Q62.50 312.00 64.10 312.00 H105.90 Q107.50 312.00 107.50 313.60 V315.80" stroke="#111" stroke-width="1.5" fill="none"/>
<text x="85.00" y="309.00" font-size="7.8" text-anchor="middle" fill="#111" stroke="#111" font-weight="bold">NS</text>
<text x="0" y="0" font-size="10.75" text-anchor="middle" fill="#111" stroke="#111" font-weight="bold" transform="translate(15.60 359.50) rotate(-90)">% cell migration</text>
<line x1="180.80" y1="308.00" x2="318.80" y2="308.00" stroke="#929292" stroke-width="1.0"/>
<line x1="180.80" y1="329.32" x2="318.80" y2="329.32" stroke="#929292" stroke-width="1.0"/>
<line x1="180.80" y1="350.64" x2="318.80" y2="350.64" stroke="#929292" stroke-width="1.0"/>
<line x1="180.80" y1="371.96" x2="318.80" y2="371.96" stroke="#929292" stroke-width="1.0"/>
<line x1="180.80" y1="393.28" x2="318.80" y2="393.28" stroke="#929292" stroke-width="1.0"/>
<line x1="183.30" y1="308.00" x2="183.30" y2="417.10" stroke="#8e8e8e" stroke-width="1.1"/>
<line x1="180.80" y1="414.60" x2="318.80" y2="414.60" stroke="#8e8e8e" stroke-width="1.1"/>
<line x1="183.30" y1="414.60" x2="183.30" y2="417.10" stroke="#8e8e8e" stroke-width="1.1"/>
<line x1="210.40" y1="414.60" x2="210.40" y2="417.10" stroke="#8e8e8e" stroke-width="1.1"/>
<line x1="237.50" y1="414.60" x2="237.50" y2="417.10" stroke="#8e8e8e" stroke-width="1.1"/>
<line x1="264.60" y1="414.60" x2="264.60" y2="417.10" stroke="#8e8e8e" stroke-width="1.1"/>
<line x1="291.70" y1="414.60" x2="291.70" y2="417.10" stroke="#8e8e8e" stroke-width="1.1"/>
<line x1="318.80" y1="414.60" x2="318.80" y2="417.10" stroke="#8e8e8e" stroke-width="1.1"/>
<text x="0" y="0" font-size="10.3" text-anchor="end" fill="#111" stroke="#111" font-weight="bold" transform="translate(175.50 312.07) scale(1 1.15)">50</text>
<text x="0" y="0" font-size="10.3" text-anchor="end" fill="#111" stroke="#111" font-weight="bold" transform="translate(175.50 333.39) scale(1 1.15)">40</text>
<text x="0" y="0" font-size="10.3" text-anchor="end" fill="#111" stroke="#111" font-weight="bold" transform="translate(175.50 354.71) scale(1 1.15)">30</text>
<text x="0" y="0" font-size="10.3" text-anchor="end" fill="#111" stroke="#111" font-weight="bold" transform="translate(175.50 376.03) scale(1 1.15)">20</text>
<text x="0" y="0" font-size="10.3" text-anchor="end" fill="#111" stroke="#111" font-weight="bold" transform="translate(175.50 397.35) scale(1 1.15)">10</text>
<text x="0" y="0" font-size="10.3" text-anchor="end" fill="#111" stroke="#111" font-weight="bold" transform="translate(175.50 418.67) scale(1 1.15)">0</text>
<rect x="191.55" y="351.30" width="10.60" height="63.30" fill="url(#gb)"/>
<rect x="192.35" y="351.30" width="9.00" height="6.50" fill="url(#hb)"/>
<line x1="196.85" y1="340.00" x2="196.85" y2="361.30" stroke="#0d1526" stroke-width="1.7"/>
<line x1="194.35" y1="340.00" x2="199.35" y2="340.00" stroke="#0d1526" stroke-width="1.8"/>
<line x1="194.35" y1="361.30" x2="199.35" y2="361.30" stroke="#0d1526" stroke-width="1.8"/>
<rect x="218.65" y="393.50" width="10.60" height="21.10" fill="url(#gb)"/>
<rect x="219.45" y="393.50" width="9.00" height="6.50" fill="url(#hb)"/>
<line x1="223.95" y1="389.50" x2="223.95" y2="396.00" stroke="#0d1526" stroke-width="1.7"/>
<line x1="221.45" y1="389.50" x2="226.45" y2="389.50" stroke="#0d1526" stroke-width="1.8"/>
<line x1="221.45" y1="396.00" x2="226.45" y2="396.00" stroke="#0d1526" stroke-width="1.8"/>
<rect x="245.75" y="323.30" width="10.60" height="91.30" fill="url(#gb)"/>
<rect x="246.55" y="323.30" width="9.00" height="6.50" fill="url(#hb)"/>
<line x1="251.05" y1="318.30" x2="251.05" y2="329.30" stroke="#0d1526" stroke-width="1.7"/>
<line x1="248.55" y1="318.30" x2="253.55" y2="318.30" stroke="#0d1526" stroke-width="1.8"/>
<line x1="248.55" y1="329.30" x2="253.55" y2="329.30" stroke="#0d1526" stroke-width="1.8"/>
<rect x="272.85" y="388.50" width="10.60" height="26.10" fill="url(#gb)"/>
<rect x="273.65" y="388.50" width="9.00" height="6.50" fill="url(#hb)"/>
<line x1="278.15" y1="380.50" x2="278.15" y2="393.30" stroke="#0d1526" stroke-width="1.7"/>
<line x1="275.65" y1="380.50" x2="280.65" y2="380.50" stroke="#0d1526" stroke-width="1.8"/>
<line x1="275.65" y1="393.30" x2="280.65" y2="393.30" stroke="#0d1526" stroke-width="1.8"/>
<rect x="299.95" y="396.00" width="10.60" height="18.60" fill="url(#gb)"/>
<rect x="300.75" y="396.00" width="9.00" height="6.50" fill="url(#hb)"/>
<line x1="305.25" y1="382.80" x2="305.25" y2="407.00" stroke="#0d1526" stroke-width="1.7"/>
<line x1="302.75" y1="382.80" x2="307.75" y2="382.80" stroke="#0d1526" stroke-width="1.8"/>
<line x1="302.75" y1="407.00" x2="307.75" y2="407.00" stroke="#0d1526" stroke-width="1.8"/>
<text x="0" y="0" font-size="10.5" text-anchor="end" fill="#111" stroke="#111" font-weight="bold" transform="translate(200.45 427.80) rotate(-45)">ST</text>
<text x="0" y="0" font-size="10.5" text-anchor="end" fill="#111" stroke="#111" font-weight="bold" transform="translate(227.55 427.80) rotate(-45)">STT</text>
<text x="0" y="0" font-size="10.5" text-anchor="end" fill="#111" stroke="#111" font-weight="bold" transform="translate(254.65 427.80) rotate(-45)">STB</text>
<text x="0" y="0" font-size="10.5" text-anchor="end" fill="#111" stroke="#111" font-weight="bold" transform="translate(281.75 427.80) rotate(-45)">STB+&#945;VLA4</text>
<text x="0" y="0" font-size="10.5" text-anchor="end" fill="#111" stroke="#111" font-weight="bold" transform="translate(308.85 427.80) rotate(-45)">STC</text>
<path d="M197.50 335.30 V333.10 Q197.50 331.50 199.10 331.50 H220.90 Q222.50 331.50 222.50 333.10 V335.30" stroke="#111" stroke-width="1.5" fill="none"/>
<circle cx="209.50" cy="323.80" r="1.21" fill="#1a1a1a"/>
<path d="M209.50 322.37L209.50 325.23M208.27 323.09L210.73 324.51M210.73 323.09L208.27 324.51" stroke="#1a1a1a" stroke-width="0.78" stroke-linecap="round"/>
<path d="M197.50 315.00 V313.60 Q197.50 312.00 199.10 312.00 H248.40 Q250.00 312.00 250.00 313.60 V315.00" stroke="#111" stroke-width="1.5" fill="none"/>
<circle cx="225.00" cy="303.40" r="1.21" fill="#1a1a1a"/>
<path d="M225.00 301.97L225.00 304.83M223.77 302.69L226.23 304.11M226.23 302.69L223.77 304.11" stroke="#1a1a1a" stroke-width="0.78" stroke-linecap="round"/>
<path d="M252.50 315.50 V313.60 Q252.50 312.00 254.10 312.00 H274.70 Q276.30 312.00 276.30 313.60 V315.50" stroke="#111" stroke-width="1.5" fill="none"/>
<circle cx="263.80" cy="303.80" r="1.21" fill="#1a1a1a"/>
<path d="M263.80 302.37L263.80 305.23M262.57 303.09L265.03 304.51M265.03 303.09L262.57 304.51" stroke="#1a1a1a" stroke-width="0.78" stroke-linecap="round"/>
<path d="M251.30 304.30 V302.40 Q251.30 300.80 252.90 300.80 H303.90 Q305.50 300.80 305.50 302.40 V304.30" stroke="#111" stroke-width="1.5" fill="none"/>
<circle cx="278.30" cy="293.80" r="1.21" fill="#1a1a1a"/>
<path d="M278.30 292.37L278.30 295.23M277.07 293.09L279.53 294.51M279.53 293.09L277.07 294.51" stroke="#1a1a1a" stroke-width="0.78" stroke-linecap="round"/>
<text x="0" y="0" font-size="10.4" text-anchor="middle" fill="#111" stroke="#111" font-weight="bold" transform="translate(157.20 354.40) rotate(-90)">Adherent cells (%)</text>
<line x1="362.00" y1="310.50" x2="492.00" y2="310.50" stroke="#929292" stroke-width="1.0"/>
<line x1="362.00" y1="330.60" x2="492.00" y2="330.60" stroke="#929292" stroke-width="1.0"/>
<line x1="362.00" y1="350.70" x2="492.00" y2="350.70" stroke="#929292" stroke-width="1.0"/>
<line x1="362.00" y1="370.80" x2="492.00" y2="370.80" stroke="#929292" stroke-width="1.0"/>
<line x1="362.00" y1="390.90" x2="492.00" y2="390.90" stroke="#929292" stroke-width="1.0"/>
<line x1="364.50" y1="310.50" x2="364.50" y2="413.50" stroke="#8e8e8e" stroke-width="1.1"/>
<line x1="362.00" y1="411.00" x2="492.00" y2="411.00" stroke="#8e8e8e" stroke-width="1.1"/>
<line x1="364.50" y1="411.00" x2="364.50" y2="413.50" stroke="#8e8e8e" stroke-width="1.1"/>
<line x1="407.00" y1="411.00" x2="407.00" y2="413.50" stroke="#8e8e8e" stroke-width="1.1"/>
<line x1="449.50" y1="411.00" x2="449.50" y2="413.50" stroke="#8e8e8e" stroke-width="1.1"/>
<line x1="492.00" y1="411.00" x2="492.00" y2="413.50" stroke="#8e8e8e" stroke-width="1.1"/>
<text x="0" y="0" font-size="10.7" text-anchor="end" fill="#111" stroke="#111" font-weight="bold" transform="translate(357.00 314.73) scale(1 1.15)">50</text>
<text x="0" y="0" font-size="10.7" text-anchor="end" fill="#111" stroke="#111" font-weight="bold" transform="translate(357.00 334.83) scale(1 1.15)">40</text>
<text x="0" y="0" font-size="10.7" text-anchor="end" fill="#111" stroke="#111" font-weight="bold" transform="translate(357.00 354.93) scale(1 1.15)">30</text>
<text x="0" y="0" font-size="10.7" text-anchor="end" fill="#111" stroke="#111" font-weight="bold" transform="translate(357.00 375.03) scale(1 1.15)">20</text>
<text x="0" y="0" font-size="10.7" text-anchor="end" fill="#111" stroke="#111" font-weight="bold" transform="translate(357.00 395.13) scale(1 1.15)">10</text>
<text x="0" y="0" font-size="10.7" text-anchor="end" fill="#111" stroke="#111" font-weight="bold" transform="translate(357.00 415.23) scale(1 1.15)">0</text>
<rect x="377.25" y="380.00" width="17.80" height="31.00" fill="url(#gb)"/>
<rect x="378.05" y="380.00" width="16.20" height="6.50" fill="url(#hb)"/>
<line x1="385.35" y1="372.50" x2="385.35" y2="386.20" stroke="#0d1526" stroke-width="1.7"/>
<line x1="382.45" y1="372.50" x2="388.25" y2="372.50" stroke="#0d1526" stroke-width="1.8"/>
<line x1="382.45" y1="386.20" x2="388.25" y2="386.20" stroke="#0d1526" stroke-width="1.8"/>
<rect x="419.75" y="340.00" width="17.80" height="71.00" fill="url(#gb)"/>
<rect x="420.55" y="340.00" width="16.20" height="6.50" fill="url(#hb)"/>
<line x1="427.85" y1="323.00" x2="427.85" y2="356.30" stroke="#0d1526" stroke-width="1.7"/>
<line x1="424.95" y1="323.00" x2="430.75" y2="323.00" stroke="#0d1526" stroke-width="1.8"/>
<line x1="424.95" y1="356.30" x2="430.75" y2="356.30" stroke="#0d1526" stroke-width="1.8"/>
<rect x="462.25" y="390.30" width="17.80" height="20.70" fill="url(#gb)"/>
<rect x="463.05" y="390.30" width="16.20" height="6.50" fill="url(#hb)"/>
<line x1="470.35" y1="382.30" x2="470.35" y2="396.00" stroke="#0d1526" stroke-width="1.7"/>
<line x1="467.45" y1="382.30" x2="473.25" y2="382.30" stroke="#0d1526" stroke-width="1.8"/>
<line x1="467.45" y1="396.00" x2="473.25" y2="396.00" stroke="#0d1526" stroke-width="1.8"/>
<text x="385.75" y="427.40" font-size="10.5" text-anchor="middle" fill="#111" stroke="#111" font-weight="bold">ST</text>
<text x="428.25" y="427.40" font-size="10.5" text-anchor="middle" fill="#111" stroke="#111" font-weight="bold">STB</text>
<text x="470.75" y="427.40" font-size="10.5" text-anchor="middle" fill="#111" stroke="#111" font-weight="bold">STC</text>
<path d="M379.50 309.50 V307.90 Q379.50 306.30 381.10 306.30 H460.90 Q462.50 306.30 462.50 307.90 V309.50" stroke="#111" stroke-width="1.5" fill="none"/>
<circle cx="423.90" cy="299.40" r="1.13" fill="#1a1a1a"/>
<path d="M423.90 298.07L423.90 300.73M422.74 298.73L425.06 300.07M425.06 298.73L422.74 300.07" stroke="#1a1a1a" stroke-width="0.72" stroke-linecap="round"/>
<path d="M385.00 320.50 V318.40 Q385.00 316.80 386.60 316.80 H424.70 Q426.30 316.80 426.30 318.40 V320.50" stroke="#111" stroke-width="1.5" fill="none"/>
<circle cx="402.90" cy="310.40" r="1.17" fill="#222"/>
<path d="M402.90 309.02L402.90 311.78M401.70 309.71L404.10 311.09M404.10 309.71L401.70 311.09" stroke="#222" stroke-width="0.75" stroke-linecap="round"/>
<circle cx="408.00" cy="310.40" r="1.17" fill="#222"/>
<path d="M408.00 309.02L408.00 311.78M406.80 309.71L409.20 311.09M409.20 309.71L406.80 311.09" stroke="#222" stroke-width="0.75" stroke-linecap="round"/>
<path d="M429.30 320.50 V318.40 Q429.30 316.80 430.90 316.80 H468.40 Q470.00 316.80 470.00 318.40 V320.50" stroke="#111" stroke-width="1.5" fill="none"/>
<circle cx="447.10" cy="310.40" r="1.17" fill="#222"/>
<path d="M447.10 309.02L447.10 311.78M445.90 309.71L448.30 311.09M448.30 309.71L445.90 311.09" stroke="#222" stroke-width="0.75" stroke-linecap="round"/>
<circle cx="452.10" cy="310.40" r="1.17" fill="#222"/>
<path d="M452.10 309.02L452.10 311.78M450.90 309.71L453.30 311.09M453.30 309.71L450.90 311.09" stroke="#222" stroke-width="0.75" stroke-linecap="round"/>
<text x="0" y="0" font-size="10.8" text-anchor="middle" fill="#111" stroke="#111" font-weight="bold" transform="translate(339.60 361.50) rotate(-90)">% homing</text>
</svg></body></html>
